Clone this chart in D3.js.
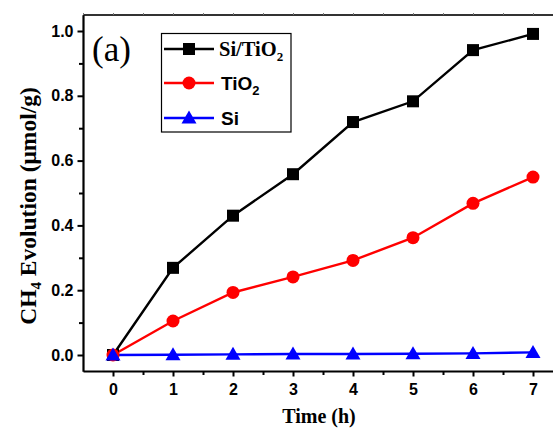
<!DOCTYPE html>
<html><head><meta charset="utf-8">
<script src="https://cdn.jsdelivr.net/npm/d3@7"></script>
<style>body{margin:0;background:#fff}svg{display:block}</style>
</head><body><svg id="c" width="553" height="428"></svg>
<script>
const hours = [0, 1, 2, 3, 4, 5, 6, 7];
const siTiO2 = [0, 0.269, 0.430, 0.558, 0.719, 0.783, 0.941, 0.991];
const tiO2 = [0, 0.105, 0.193, 0.241, 0.292, 0.362, 0.468, 0.549];
const si = [0, 0.001, 0.002, 0.003, 0.003, 0.004, 0.005, 0.008];
const xTicks = [0, 1, 2, 3, 4, 5, 6, 7];
const yTicks = [0.0, 0.2, 0.4, 0.6, 0.8, 1.0];

const svg = d3.select("#c");
const x = d3.scaleLinear().domain([-0.5, 7.5]).range([83, 563]);
const y = d3.scaleLinear().domain([-0.05, 1.05]).range([371.2, 14.8]);

const sans = "Liberation Sans, Arial, sans-serif";
const serif = "Liberation Serif, Times New Roman, serif";

// top border with small ticks
svg.append("line").attr("x1", 83).attr("x2", 553).attr("y1", 15).attr("y2", 15)
  .attr("stroke", "#333").attr("stroke-width", 1.8);
const topT = svg.append("g").attr("transform", "translate(0,15)")
  .call(d3.axisTop(x).tickValues(d3.range(-0.5, 7.6, 0.5)).tickSize(2).tickFormat(""));
topT.select(".domain").remove();
topT.selectAll("line").attr("stroke", "#777").attr("stroke-width", 1);

// bottom axis
const xMinor = svg.append("g").attr("transform", "translate(0,371)")
  .call(d3.axisBottom(x).tickValues(d3.range(0.5, 7.6, 1)).tickSize(4).tickFormat(""));
xMinor.select(".domain").remove();
xMinor.selectAll("line").attr("stroke-width", 2);
const xAx = svg.append("g").attr("transform", "translate(0,371)")
  .call(d3.axisBottom(x).tickValues(xTicks).tickSize(5.5).tickSizeOuter(0).tickPadding(7).tickFormat(d3.format("d")));
xAx.select(".domain").attr("stroke-width", 2.2);
xAx.selectAll("line").attr("stroke-width", 2);
xAx.selectAll("text").attr("font-family", sans).attr("font-weight", "bold").attr("font-size", 16).attr("fill", "#000");

// left axis
const yMinor = svg.append("g").attr("transform", "translate(83,0)")
  .call(d3.axisLeft(y).tickValues(d3.range(0.1, 1.0, 0.2)).tickSize(4).tickFormat(""));
yMinor.select(".domain").remove();
yMinor.selectAll("line").attr("stroke-width", 2);
const yAx = svg.append("g").attr("transform", "translate(83,0)")
  .call(d3.axisLeft(y).tickValues(yTicks).tickSize(5.5).tickSizeOuter(0).tickPadding(4).tickFormat(d3.format(".1f")));
yAx.select(".domain").attr("stroke-width", 2.2);
yAx.selectAll("line").attr("stroke-width", 2);
yAx.selectAll("text").attr("font-family", sans).attr("font-weight", "bold").attr("font-size", 16).attr("fill", "#000");

// series
const series = [
  {name: "Si/TiO2", vals: siTiO2, color: "#000000", marker: "square"},
  {name: "TiO2", vals: tiO2, color: "#ff0000", marker: "circle"},
  {name: "Si", vals: si, color: "#0000ff", marker: "triangle"}
];
const line = d3.line().x((d, i) => x(hours[i])).y(d => y(d));
function drawMarker(g, type, cx, cy, color) {
  if (type === "square") {
    g.append("rect").attr("x", cx - 6).attr("y", cy - 6).attr("width", 12).attr("height", 12).attr("fill", color);
  } else if (type === "circle") {
    g.append("circle").attr("cx", cx).attr("cy", cy).attr("r", 6.5).attr("fill", color);
  } else {
    g.append("path").attr("d", `M${cx},${cy - 7.5}L${cx + 7.5},${cy + 5.5}L${cx - 7.5},${cy + 5.5}Z`).attr("fill", color);
  }
}
series.forEach(s => {
  svg.append("path").datum(s.vals).attr("d", line).attr("fill", "none")
    .attr("stroke", s.color).attr("stroke-width", 2.4);
});
series.forEach(s => {
  const g = svg.append("g");
  s.vals.forEach((v, i) => drawMarker(g, s.marker, x(hours[i]), y(v), s.color));
});

// legend
svg.append("rect").attr("x", 161.5).attr("y", 33.5).attr("width", 129.5).attr("height", 98.5)
  .attr("fill", "#fff").attr("stroke", "#000").attr("stroke-width", 1.2);
const rows = [49, 83, 118];
series.forEach((s, i) => {
  const g = svg.append("g");
  g.append("line").attr("x1", 164).attr("x2", 214).attr("y1", rows[i]).attr("y2", rows[i])
    .attr("stroke", s.color).attr("stroke-width", 2.4);
  drawMarker(g, s.marker, 189, rows[i], s.color);
});
const t1 = svg.append("text").attr("x", 219).attr("y", 56).attr("font-family", serif)
  .attr("font-weight", "bold").attr("font-size", 20.5).attr("fill", "#000");
t1.append("tspan").text("Si/TiO");
t1.append("tspan").attr("font-size", 13).attr("dy", 5).text("2");
const t2 = svg.append("text").attr("x", 221).attr("y", 90).attr("font-family", sans)
  .attr("font-weight", "bold").attr("font-size", 19).attr("fill", "#000");
t2.append("tspan").text("TiO");
t2.append("tspan").attr("font-size", 13).attr("dy", 5).text("2");
svg.append("text").attr("x", 221).attr("y", 125).attr("font-family", sans)
  .attr("font-weight", "bold").attr("font-size", 19).attr("fill", "#000").text("Si");

// (a)
svg.append("text").attr("x", 92).attr("y", 61).attr("font-family", serif)
  .attr("font-size", 35).attr("fill", "#000").text("(a)");

// axis titles
svg.append("text").attr("x", 319).attr("y", 423).attr("text-anchor", "middle")
  .attr("font-family", serif).attr("font-weight", "bold").attr("font-size", 20).attr("fill", "#000").text("Time (h)");
const yt = svg.append("text").attr("transform", "translate(36,206) rotate(-90)").attr("text-anchor", "middle")
  .attr("font-family", serif).attr("font-weight", "bold").attr("font-size", 23.5).attr("fill", "#000");
yt.append("tspan").text("CH");
yt.append("tspan").attr("font-size", 15).attr("dy", 5).text("4");
yt.append("tspan").attr("dy", -5).text(" Evolution (μmol/g)");
</script></body></html>
